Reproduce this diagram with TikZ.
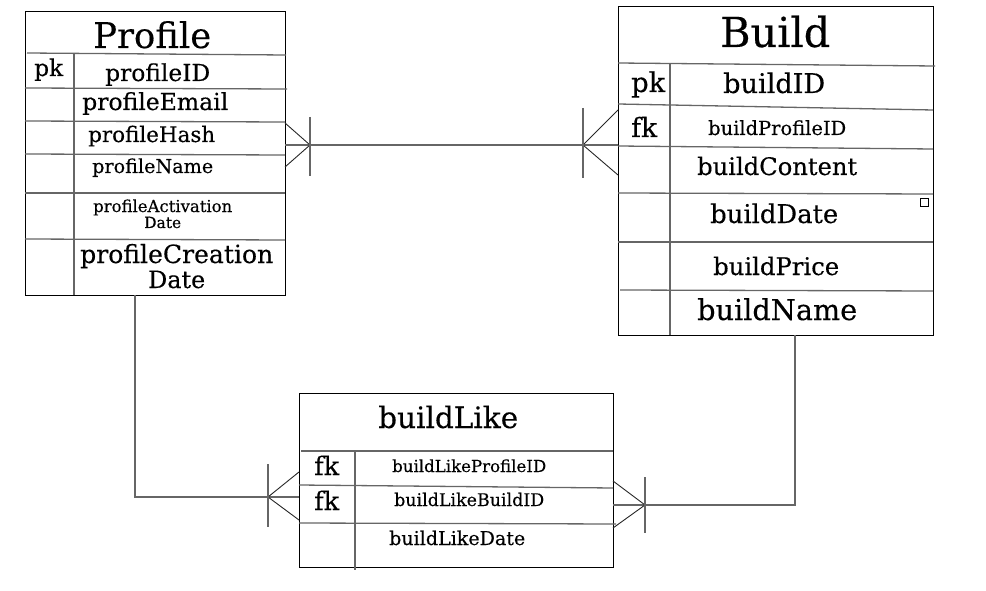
\documentclass[tikz,border=0pt]{standalone}
\usepackage{graphicx}
\usepackage{fontspec}
\setmainfont{DejaVu Serif}[FakeBold=0.3]
\tikzset{
  box/.style={draw=black, line width=1pt, inner sep=0pt},
  row/.style={draw=black!60, line width=1.3pt},
  conn/.style={draw=black!60, line width=1.5pt},
  prong/.style={draw=black!85, line width=0.9pt},
  txt/.style={anchor=base west, inner sep=0pt, text=black},
}
\newcommand\Tx[5]{\node[txt] (#1) at (#2,#3) {\resizebox{#4pt}{!}{#5}};}
\begin{document}
\begin{tikzpicture}[x=1pt,y=-1pt]
\useasboundingbox (0,0) rectangle (986,591);
% ---------- Profile ----------
\node[box, minimum width=260pt, minimum height=283pt] (profile) at (155,153.5) {};
\draw[row] (27,53)--(286,55);
\draw[row] (25,88)--(287,89);
\draw[row] (25,121)--(285,122);
\draw[row] (25,154)--(285,155);
\draw[row] (25,193)--(285,193);
\draw[row] (25,239)--(285,240);
\draw[row] (74,54)--(74,295);
\Tx{pt}{93}{48}{118}{Profile}
\Tx{ppk}{34}{76}{29}{pk}
\Tx{pid}{105}{81}{105}{profileID}
\Tx{pem}{82}{110}{146}{profileEmail}
\Tx{pha}{88}{142}{127}{profileHash}
\Tx{pna}{92}{173}{121}{profileName}
\Tx{pac}{93}{212}{139}{profileActivation}
\Tx{pacd}{144}{228}{37}{Date}
\Tx{pcr}{80}{263}{193}{profileCreation}
\Tx{pcrd}{148}{288}{57}{Date}
% ---------- Build ----------
\node[box, minimum width=315pt, minimum height=328pt] (build) at (775.5,171) {};
\draw[row] (618,63)--(935,66);
\draw[row] (618,104)--(933,110);
\draw[row] (618,146)--(933,149);
\draw[row] (618,193)--(933,194);
\draw[row] (618,242)--(933,242);
\draw[row] (620,290)--(933,291);
\draw[row] (670,64)--(670,335);
\Tx{bt}{720}{47}{110}{Build}
\Tx{bpk}{631}{92}{34}{pk}
\Tx{bid}{723}{93}{102}{buildID}
\Tx{bfk}{631}{137}{26}{fk}
\Tx{bpid}{708}{135}{138}{buildProfileID}
\Tx{bco}{697}{175}{160}{buildContent}
\Tx{bda}{710}{223}{128}{buildDate}
\Tx{bpr}{713}{275}{126}{buildPrice}
\Tx{bna}{697}{320}{160}{buildName}
\node[draw=black, line width=0.8pt, minimum size=8pt, inner sep=0pt] (sq) at (924,202) {};
% ---------- buildLike ----------
\node[box, minimum width=314pt, minimum height=174pt] (like) at (456,480) {};
\draw[row] (301,451)--(613,451);
\draw[row] (299,485)--(613,488);
\draw[row] (299,523)--(616,524);
\draw[row] (355,450)--(355,570);
\Tx{lt}{378}{428}{140}{buildLike}
\Tx{lfk1}{314}{475}{25}{fk}
\Tx{lpid}{392}{472}{154}{buildLikeProfileID}
\Tx{lfk2}{314}{510}{25}{fk}
\Tx{lbid}{394}{506}{150}{buildLikeBuildID}
\Tx{lda}{389}{545}{136}{buildLikeDate}
% ---------- connectors ----------
\coordinate (pe) at (285,145);
\coordinate (pf) at (310,145);
\coordinate (be) at (618,145);
\coordinate (bf) at (583,145);
\draw[conn] (pe)--(be);
\draw[prong] (285,123)--(pf)--(285,167);
\draw[conn] (310,117)--(310,176);
\draw[prong] (618,110)--(bf)--(618,175);
\draw[conn] (583,108)--(583,178);
% Profile - buildLike
\coordinate (ps) at (135,295);
\coordinate (pc) at (135,497);
\coordinate (lw) at (299,497);
\coordinate (lwf) at (268,497);
\draw[conn] (ps)--(pc)--(lw);
\draw[prong] (299,472)--(lwf)--(299,520);
\draw[conn] (268,464)--(268,527);
% Build - buildLike
\coordinate (bs) at (795,335);
\coordinate (bc) at (795,505);
\coordinate (le) at (613,505);
\coordinate (lef) at (645,505);
\draw[conn] (bs)--(bc)--(le);
\draw[prong] (613,481)--(lef)--(613,528);
\draw[conn] (645,477)--(645,533);
\end{tikzpicture}
\end{document}
